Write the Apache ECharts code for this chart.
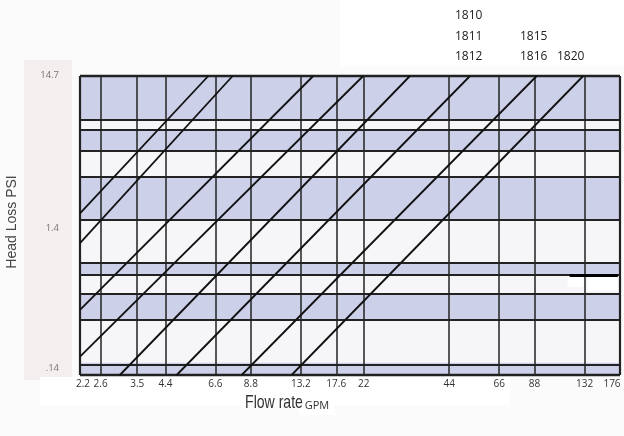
<!DOCTYPE html>
<html>
<head>
<meta charset="utf-8">
<script src="https://cdn.jsdelivr.net/npm/echarts@6/dist/echarts.min.js"></script>
<style>
html,body{margin:0;padding:0;background:#fbfbfb;}
#c{width:624px;height:436px;}
</style>
</head>
<body>
<div id="c"></div>
<script>
// ---- data ----
const xTickValues = [2.2, 2.6, 3.5, 4.4, 6.6, 8.8, 13.2, 17.6, 22, 44, 66, 88, 132, 176];
const xTickLabels = ['2.2', '2.6', '3.5', '4.4', '6.6', '8.8', '13.2', '17.6', '22', '44', '66', '88', '132', '176'];
const yGridValues = [14.7, 7.3, 6.2, 4.4, 2.9, 1.45, 0.73, 0.6, 0.44, 0.29, 0.145, 0.119];
const yBandEdges = [14.7, 7.3, 6.2, 4.4, 2.9, 1.45, 0.73, 0.6, 0.44, 0.29, 0.145, 0.119];
const yTickValues = [14.7, 1.4, 0.14];
const yTickLabels = ['14.7', '1.4', '.14'];
const xMin = 2.2, xMax = 176, yMin = 0.119, yMax = 14.7;

// head-loss curves (GPM, PSI), read at the plot edges
const curveA = [[2.2, 1.61], [6.23, 14.7]];
const curveB = [[2.2, 0.994], [7.59, 14.7]];
const curveC = [[2.2, 0.340], [14.6, 14.7]];
const curveD = [[2.2, 0.160], [21.9, 14.7]];
const curveE = [[3.04, 0.119], [32.0, 14.7]];
const curveF = [[4.82, 0.119], [52.1, 14.7]];   // 1810 / 1811 / 1812
const curveG = [[8.17, 0.119], [89.5, 14.7]];   // 1815 / 1816
const curveH = [[12.25, 0.119], [130.5, 14.7]]; // 1820
const curves = [curveA, curveB, curveC, curveD, curveE, curveF, curveG, curveH];

const modelLabels = [
  {text: '1810', x: 455, y: 10},
  {text: '1811', x: 455, y: 31},
  {text: '1812', x: 455, y: 51},
  {text: '1815', x: 520, y: 31},
  {text: '1816', x: 520, y: 51},
  {text: '1820', x: 557, y: 51}
];

// scan artefact on the right of the grid
const artefactSegment = [[117, 0.597], [173, 0.597]];
const artefactBoxes = [[[115, 0.58], [131, 0.49]], [[135, 0.58], [173, 0.46]]];

// ---- chart ----
const chart = echarts.init(document.getElementById('c'), null, {renderer: 'canvas'});

const BLUE = '#cdd0e9';
const WHITE = '#f6f6f8';
const GRIDC = '#222222';
const FONT = "'Open Sans', 'Noto Sans', sans-serif";

const bandData = [];
for (let i = 0; i < yBandEdges.length - 1; i++) {
  bandData.push([
    {yAxis: yBandEdges[i], itemStyle: {color: i % 2 === 0 ? BLUE : WHITE}},
    {yAxis: yBandEdges[i + 1]}
  ]);
}

const gridLineData = [];
xTickValues.forEach((v, i) => {
  const last = i === xTickValues.length - 1;
  const edge = (i === 0 || last);
  gridLineData.push({xAxis: v, name: xTickLabels[i],
    label: {show: true, offset: last ? [-8, 0] : (i === 0 ? [3, 0] : [0, 0])},
    lineStyle: {width: edge ? 2.2 : 1.5}});
});
yGridValues.forEach((v, i) => {
  const edge = (i === 0 || i === yGridValues.length - 1);
  gridLineData.push({yAxis: v, label: {show: false}, lineStyle: {width: edge ? 2.4 : 1.8}});
});

const yLabelOffsets = [[0, -1], [0, 6], [0, 3]];

const series = [];
// background bands
series.push({
  type: 'line', data: [], silent: true, z: 1,
  markArea: {silent: true, data: bandData, itemStyle: {opacity: 1}}
});
// grid lines
series.push({
  type: 'line', data: [], silent: true, z: 3,
  markLine: {
    silent: true,
    symbol: ['none', 'none'],
    animation: false,
    lineStyle: {color: GRIDC, width: 1.5, type: 'solid'},
    label: {
      position: 'start',
      distance: 4,
      formatter: p => p.name,
      color: '#333',
      fontSize: 10,
      fontFamily: FONT
    },
    data: gridLineData
  }
});
// artefact
series.push({
  type: 'line', data: [], silent: true, z: 4,
  markArea: {silent: true, itemStyle: {color: '#ffffff', opacity: 1},
    data: artefactBoxes.map(b => [{coord: b[0]}, {coord: b[1]}])},
  markLine: {silent: true, symbol: ['none', 'none'], animation: false,
    lineStyle: {color: '#000', width: 3, type: 'solid'},
    label: {show: false},
    data: [[{coord: artefactSegment[0]}, {coord: artefactSegment[1]}]]}
});
// curves
curves.forEach((c, i) => {
  series.push({
    type: 'line',
    name: 'curve' + (i + 1),
    data: c,
    showSymbol: false,
    symbol: 'none',
    clip: true,
    z: 5,
    lineStyle: {color: '#111', width: 1.8},
    silent: true,
    animation: false
  });
});
// y tick labels
series.push({
  type: 'scatter',
  data: yTickValues.map((v, i) => ({value: [xMin, v], name: yTickLabels[i],
    label: {offset: yLabelOffsets[i]}})),
  symbolSize: 0,
  clip: false,
  silent: true,
  z: 6,
  label: {
    show: true,
    position: 'left',
    distance: 21,
    formatter: p => p.name,
    color: '#555',
    fontSize: 9.5,
    fontFamily: FONT
  }
});

const graphics = [
  {type: 'rect', z: -10, shape: {x: 24, y: 60, width: 48, height: 320}, style: {fill: '#f4eeee'}},
  {type: 'rect', z: -10, shape: {x: 40, y: 377, width: 470, height: 28}, style: {fill: '#ffffff'}},
  {type: 'rect', z: -10, shape: {x: 340, y: 0, width: 284, height: 66}, style: {fill: '#ffffff'}},
  {type: 'text', x: 12, y: 222, rotation: Math.PI / 2,
    style: {text: 'Head Loss PSI', fill: '#444', fontSize: 14,
      fontFamily: "'Liberation Sans', Arial, sans-serif", align: 'center', verticalAlign: 'middle'}},
  {type: 'rect', z: -5, shape: {x: 299, y: 395, width: 36, height: 20}, style: {fill: '#ffffff'}},
  {type: 'text', x: 274, y: 403, scaleX: 0.74,
    style: {text: 'Flow rate', fill: '#333', fontSize: 19,
      fontFamily: "'Liberation Sans', Arial, sans-serif", align: 'center', verticalAlign: 'middle'}},
  {type: 'text', x: 317, y: 406,
    style: {text: 'GPM', fill: '#333', fontSize: 11,
      fontFamily: FONT, align: 'center', verticalAlign: 'middle'}}
];
modelLabels.forEach(m => {
  graphics.push({type: 'text', x: m.x, y: m.y,
    style: {text: m.text, fill: '#222', fontSize: 12,
      fontFamily: FONT, align: 'left', verticalAlign: 'top'}});
});

chart.setOption({
  animation: false,
  backgroundColor: '#fbfbfb',
  grid: {left: 80, right: 4, top: 76, bottom: 61, show: true,
    backgroundColor: WHITE, borderWidth: 0},
  xAxis: {
    type: 'log', logBase: 10, min: xMin, max: xMax,
    axisLine: {show: false}, axisTick: {show: false},
    axisLabel: {show: false}, splitLine: {show: false}, minorSplitLine: {show: false}
  },
  yAxis: {
    type: 'log', logBase: 10, min: yMin, max: yMax,
    axisLine: {show: false}, axisTick: {show: false},
    axisLabel: {show: false}, splitLine: {show: false}, minorSplitLine: {show: false}
  },
  graphic: graphics,
  series: series
});
</script>
</body>
</html>
